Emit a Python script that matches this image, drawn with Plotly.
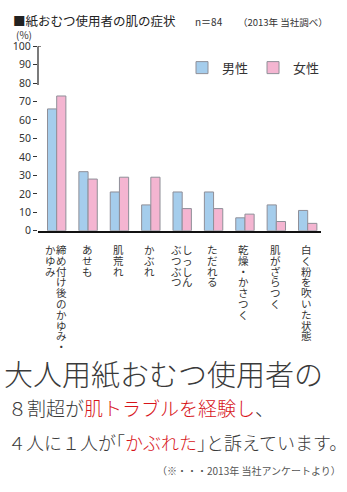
import plotly.graph_objects as go

# Survey data: skin symptoms reported by adult diaper users (%)
categories = [
    "締め付け後のかゆみ・\nかゆみ",
    "あせも",
    "肌荒れ",
    "かぶれ",
    "しっしん\nぶつぶつ",
    "ただれる",
    "乾燥・かさつく",
    "肌がざらつく",
    "白く粉を吹いた状態",
]
male = [66, 32, 21, 14, 21, 21, 7, 14, 11]
female = [73, 28, 29, 29, 12, 12, 9, 5, 4]
series_names = ["男性", "女性"]
y_ticks = list(range(0, 101, 10))

W, H = 347, 492
FONT_JP = "Noto Sans CJK JP"
TEXT = "#333333"
BLUE = "#a5cdec"
PINK = "#f4b5d1"
EDGE = "#8f8f98"
RED = "#d7141a"


def fx(p):
    return p / W


def fy(p):
    return 1 - p / H


x_idx = list(range(len(categories)))
bar_w = 0.293

fig = go.Figure()
fig.add_trace(go.Bar(
    x=x_idx, y=male, name=series_names[0], width=bar_w, offset=-bar_w,
    marker=dict(color=BLUE, line=dict(color=EDGE, width=1)),
))
fig.add_trace(go.Bar(
    x=x_idx, y=female, name=series_names[1], width=bar_w, offset=0,
    marker=dict(color=PINK, line=dict(color=EDGE, width=1)),
))

annotations = []

# vertical (tategaki) category labels: one column per annotation, one glyph per line.
# The base font sets the line pitch (1.3em), the span sets the glyph size.
LINE_FONT = 8.3
GLYPH_FONT = 10.5
for i, label in enumerate(categories):
    cols = label.split("\n")
    shifts = [-1] if len(cols) == 1 else [5, -6]
    for col, shift in zip(cols, shifts):
        text = "<br>".join(
            f"<span style='font-size:{GLYPH_FONT}px'>{ch}</span>" for ch in col
        )
        annotations.append(dict(
            x=i, xref="x", y=fy(240), yref="paper",
            text=text, showarrow=False, xshift=shift,
            xanchor="center", yanchor="top", align="center",
            font=dict(family=FONT_JP, size=LINE_FONT, color=TEXT),
        ))

# header texts
annotations += [
    dict(x=fx(11), y=fy(14), text="■紙おむつ使用者の肌の症状",
         font=dict(family=FONT_JP, size=12.5, color="#222222")),
    dict(x=fx(193), y=fy(15), text="n＝84",
         font=dict(family=FONT_JP, size=10, color=TEXT)),
    dict(x=fx(236), y=fy(15), text="（2013年 当社調べ）",
         font=dict(family=FONT_JP, size=9.5, color=TEXT)),
    dict(x=fx(14), y=fy(28), text="(%)",
         font=dict(family=FONT_JP, size=10, color=TEXT)),
]

# headline block below the chart
annotations += [
    dict(x=fx(2), y=fy(377), text="大人用紙おむつ使用者の",
         font=dict(family=FONT_JP, size=29, color="#3a3a3a", weight=300)),
    dict(x=fx(6), y=fy(412),
         text=f"８割超が<span style='color:{RED}'>肌トラブルを経験し</span>、",
         font=dict(family=FONT_JP, size=19, color="#3a3a3a", weight=300)),
    dict(x=fx(6), y=fy(448),
         text=f"４人に１人が｢<span style='color:{RED}'>かぶれた</span>｣と訴えています。",
         font=dict(family=FONT_JP, size=18, color="#3a3a3a", weight=300)),
    dict(x=fx(343), y=fy(477), xanchor="right",
         text="（※・・・2013年 当社アンケートより）",
         font=dict(family=FONT_JP, size=10, color="#555555")),
]

for a in annotations:
    a.setdefault("xref", "paper")
    a.setdefault("yref", "paper")
    a.setdefault("showarrow", False)
    a.setdefault("xanchor", "left")
    a.setdefault("yanchor", "middle")

plot_left, plot_right = 38, 321
y0_px, y100_px = 230.3, 40.3
pitch_px = 31.375
center0 = 56.7

fig.update_layout(
    width=W, height=H,
    margin=dict(l=0, r=0, t=0, b=0),
    paper_bgcolor="white", plot_bgcolor="white",
    barmode="overlay",
    font=dict(family=FONT_JP, color=TEXT),
    showlegend=True,
    legend=dict(
        orientation="h", x=fx(182), y=fy(47), xanchor="left", yanchor="top",
        font=dict(family=FONT_JP, size=13, color=TEXT),
        bgcolor="rgba(0,0,0,0)", tracegroupgap=0,
    ),
    xaxis=dict(
        domain=[fx(plot_left), fx(plot_right)],
        range=[(plot_left - center0) / pitch_px, (plot_right - center0) / pitch_px],
        showticklabels=False, ticks="", showgrid=False, zeroline=False,
        showline=True, linecolor="#111111", linewidth=1.6,
    ),
    yaxis=dict(
        domain=[fy(y0_px), fy(y100_px)],
        range=[0, 100], tickvals=y_ticks,
        ticks="outside", ticklen=4, tickcolor=TEXT, tickwidth=1,
        tickfont=dict(family="Noto Sans", size=10.5, color=TEXT),
        showgrid=False, zeroline=False, showline=False,
    ),
    annotations=annotations,
    shapes=[
        dict(type="line", xref="paper", yref="y", x0=fx(plot_left), x1=fx(plot_left),
             y0=79, y1=100, line=dict(color="#222222", width=1.2)),
        dict(type="line", xref="paper", yref="y", x0=fx(plot_left), x1=fx(plot_left + 3),
             y0=100, y1=100, line=dict(color="#222222", width=1.2)),
    ],
)

fig.write_html("out.html")
